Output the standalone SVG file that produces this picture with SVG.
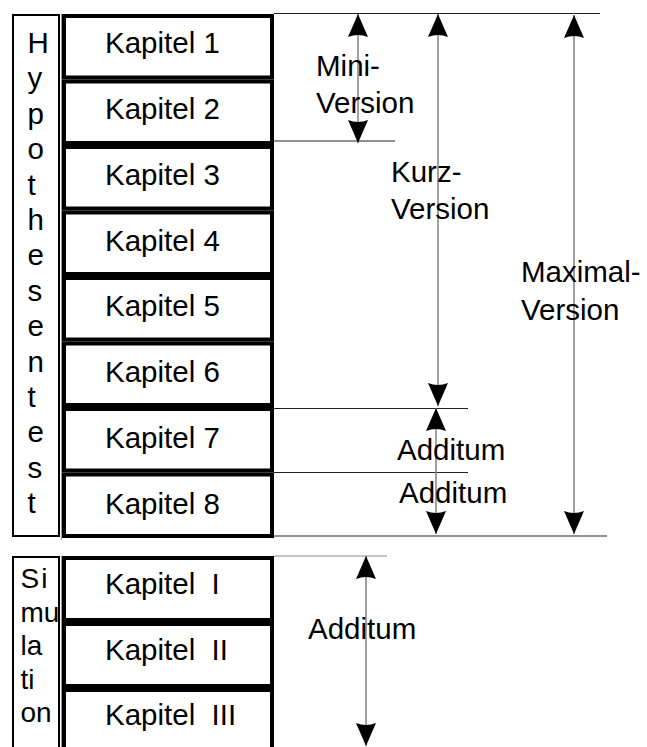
<svg xmlns="http://www.w3.org/2000/svg" width="647" height="747" viewBox="0 0 647 747">
<style>
text{font-family:"Liberation Sans",Arial,sans-serif;font-size:29.5px;fill:#000}
.lbl{fill:#fff;stroke:#000;stroke-width:2}
.ch{fill:#fff;stroke:#000;stroke-width:4}
.frame{fill:none;stroke:#999;stroke-width:1}
.guide{stroke:#222;stroke-width:1;fill:none}
.guide2{stroke:#888;stroke-width:1;fill:none}
.arr{stroke:#808080;stroke-width:1.5;fill:none;marker-start:url(#ah);marker-end:url(#ah)}
.sim{font-size:28px}
</style>
<defs>
<marker id="ah" viewBox="0 0 23 20" refX="23" refY="10" markerWidth="23" markerHeight="20" markerUnits="userSpaceOnUse" orient="auto-start-reverse">
<path d="M0,0 L23,10 L0,20 Q4,10 0,0 Z" fill="#000"/>
</marker>
</defs>
<rect width="647" height="747" fill="#fff"/>

<g id="hypothesentest-label">
<rect class="lbl" x="13" y="15" width="46" height="521"/>
<text x="27.5" y="53">H</text>
<text x="27.5" y="88.4">y</text>
<text x="27.5" y="123.8">p</text>
<text x="27.5" y="159.2">o</text>
<text x="27.5" y="194.6">t</text>
<text x="27.5" y="230">h</text>
<text x="27.5" y="265.4">e</text>
<text x="27.5" y="300.8">s</text>
<text x="27.5" y="336.2">e</text>
<text x="27.5" y="371.6">n</text>
<text x="27.5" y="407">t</text>
<text x="27.5" y="442.4">e</text>
<text x="27.5" y="477.8">s</text>
<text x="27.5" y="513.2">t</text>
</g>

<line class="frame" x1="61.5" y1="14" x2="61.5" y2="540"/>

<g id="kapitel-1"><rect class="ch" x="64" y="16" width="208" height="61.5"/><text x="105" y="53">Kapitel 1</text></g>
<g id="kapitel-2"><rect class="ch" x="64" y="81.5" width="208" height="61.5"/><text x="105" y="118.9">Kapitel 2</text></g>
<g id="kapitel-3"><rect class="ch" x="64" y="147" width="208" height="61.5"/><text x="105" y="184.7">Kapitel 3</text></g>
<g id="kapitel-4"><rect class="ch" x="64" y="212.5" width="208" height="61.5"/><text x="105" y="250.6">Kapitel 4</text></g>
<g id="kapitel-5"><rect class="ch" x="64" y="278" width="208" height="61.5"/><text x="105" y="316.4">Kapitel 5</text></g>
<g id="kapitel-6"><rect class="ch" x="64" y="343.5" width="208" height="61.5"/><text x="105" y="382.3">Kapitel 6</text></g>
<g id="kapitel-7"><rect class="ch" x="64" y="409" width="208" height="61.5"/><text x="105" y="448.2">Kapitel 7</text></g>
<g id="kapitel-8"><rect class="ch" x="64" y="474.5" width="208" height="61.5"/><text x="105" y="514">Kapitel 8</text></g>

<g id="simulation-label">
<rect class="lbl" x="13" y="557" width="46" height="220"/>
<text class="sim" x="20.5" y="588" letter-spacing="2">Si</text>
<text class="sim" x="20.5" y="621.5">mu</text>
<text class="sim" x="20.5" y="655">la</text>
<text class="sim" x="20.5" y="688.5">ti</text>
<text class="sim" x="20.5" y="722">on</text>
</g>

<line class="frame" x1="61.5" y1="556" x2="61.5" y2="747"/>

<g id="kapitel-I"><rect class="ch" x="64" y="558" width="208" height="62"/><text x="105" y="594" xml:space="preserve">Kapitel  I</text></g>
<g id="kapitel-II"><rect class="ch" x="64" y="624" width="208" height="62"/><text x="105" y="659.5" xml:space="preserve">Kapitel  II</text></g>
<g id="kapitel-III"><rect class="ch" x="64" y="690" width="208" height="80"/><text x="105" y="725" xml:space="preserve">Kapitel  III</text></g>

<g id="connectors">
<line class="guide" x1="274" y1="13.5" x2="600" y2="13.5"/>
<line class="guide" x1="274" y1="141" x2="395" y2="141"/>
<line class="guide" x1="274" y1="408.5" x2="468" y2="408.5"/>
<line class="guide" x1="274" y1="472.5" x2="468" y2="472.5"/>
<line class="guide" x1="274" y1="536" x2="607" y2="536"/>
<line class="guide2" x1="274" y1="556" x2="387" y2="556"/>
<line class="arr" x1="358" y1="14" x2="358" y2="143"/>
<line class="arr" x1="438" y1="14" x2="438" y2="406"/>
<line class="arr" x1="574" y1="15" x2="574" y2="534"/>
<line class="arr" x1="436" y1="408" x2="436" y2="534"/>
<line class="arr" x1="366" y1="556" x2="366" y2="746"/>
</g>

<g id="label-mini"><text x="316" y="76">Mini-</text><text x="316" y="113">Version</text></g>
<g id="label-kurz"><text x="391" y="182">Kurz-</text><text x="391" y="219">Version</text></g>
<g id="label-maximal"><text x="521" y="282">Maximal-</text><text x="521" y="320">Version</text></g>
<g id="label-additum-7"><text x="397" y="460">Additum</text></g>
<g id="label-additum-8"><text x="399" y="503">Additum</text></g>
<g id="label-additum-sim"><text x="308" y="639">Additum</text></g>
</svg>
